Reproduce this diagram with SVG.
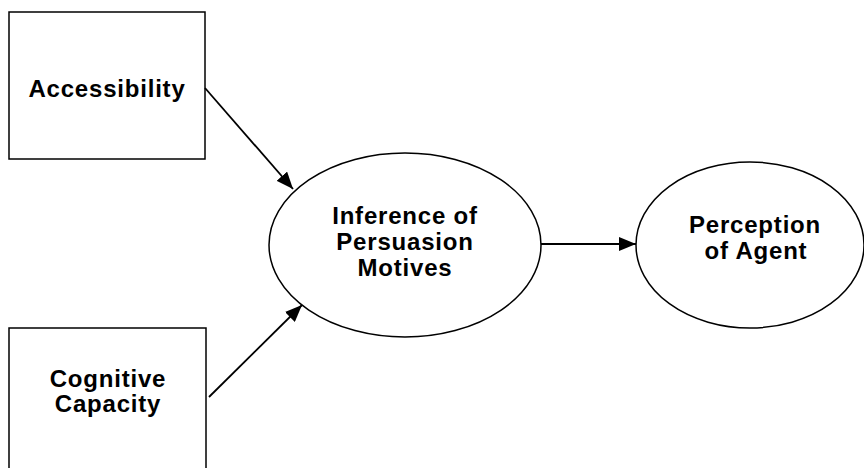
<svg xmlns="http://www.w3.org/2000/svg" width="864" height="468" viewBox="0 0 864 468">
<style>
.box{fill:#fff;stroke:#000;stroke-width:1.5}
.ell{fill:#fff;stroke:#000;stroke-width:1.5}
.lbl{font-family:"Liberation Sans",Arial,sans-serif;font-weight:bold;font-size:24px;letter-spacing:0.8px;text-anchor:middle;fill:#000}
.con{stroke:#000;stroke-width:1.8;fill:none;marker-end:url(#ah)}
</style>
<defs>
<marker id="ah" markerUnits="userSpaceOnUse" markerWidth="18" markerHeight="14" viewBox="0 0 18 14" refX="17" refY="7" orient="auto">
<path d="M0,0 L17,7 L0,14 Z" fill="#000"/>
</marker>
</defs>
<rect width="864" height="468" fill="#fff"/>
<g id="accessibility">
<rect class="box" x="9" y="12" width="196" height="147"/>
<text class="lbl" x="107" y="97">Accessibility</text>
</g>
<g id="cognitive-capacity">
<rect class="box" x="9" y="328" width="197" height="145"/>
<text class="lbl" x="108" y="387">Cognitive</text>
<text class="lbl" x="108" y="412">Capacity</text>
</g>
<g id="inference">
<ellipse class="ell" cx="405" cy="245" rx="136" ry="92"/>
<text class="lbl" x="405" y="224">Inference of</text>
<text class="lbl" x="405" y="250">Persuasion</text>
<text class="lbl" x="405" y="276">Motives</text>
</g>
<g id="perception">
<ellipse class="ell" cx="750" cy="245" rx="114" ry="83"/>
<text class="lbl" x="755" y="233">Perception</text>
<text class="lbl" x="756" y="259">of Agent</text>
</g>
<g id="connectors">
<line class="con" x1="205" y1="88" x2="293" y2="189"/>
<line class="con" x1="209" y1="397" x2="302" y2="305"/>
<line class="con" x1="541" y1="244" x2="636" y2="244"/>
</g>
</svg>
